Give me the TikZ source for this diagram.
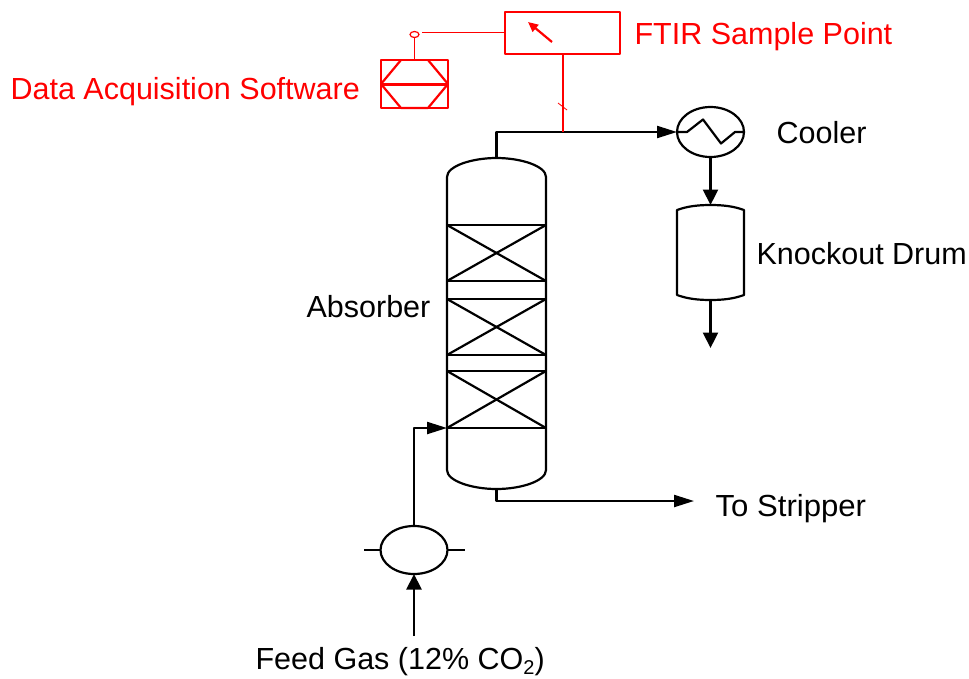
\documentclass[tikz,border=0pt]{standalone}
\usepackage{fontspec}
\setmainfont{Liberation Sans}
\usetikzlibrary{arrows.meta, shapes.geometric}

\begin{document}
\begin{tikzpicture}[
                    % one unit is one pixel of the sheet, y runs downwards
                    x=1pt, y=-1pt,
                    every path/.style={line width=2.2pt},
                    line join=round,
                    % Arrow tips are longer on the level lines
                    hflow/.style={-{Triangle[length=20pt, width=12pt]}},
                    vflow/.style={-{Triangle[length=15.5pt, width=15pt]}},
                    vessel/.style={draw, ellipse, inner sep=0pt, outer sep=0pt},
                    tag/.style={anchor=base west, inner sep=0pt, font=\fontsize{30.5}{36}\selectfont},
                    probe/.style={color=red, draw=red, text=red}
                  ]
  \useasboundingbox (0,0) rectangle (969,678);

  % --- Dimensions of the absorber ---
  \def\Xl{447}     % left wall
  \def\Xr{546}     % right wall
  \def\Xm{496.5}   % centre line

  % --- Absorber shell ---
  \coordinate (absTop) at (\Xm,158);
  \coordinate (absBot) at (\Xm,489);
  \draw (\Xl,470) -- (\Xl,177) .. controls (\Xl,166) and (472,158) .. (absTop)
        .. controls (521,158) and (\Xr,166) .. (\Xr,177) -- (\Xr,470)
        .. controls (\Xr,481) and (521,489) .. (absBot)
        .. controls (472,489) and (\Xl,481) .. (\Xl,470) -- cycle;

  % Packed beds
  \foreach \Ya/\Yb in {225/281, 299/355, 371/428} {
    \draw (\Xl,\Ya) rectangle (\Xr,\Yb);
    \draw (\Xl,\Ya) -- (\Xr,\Yb);
    \draw (\Xl,\Yb) -- (\Xr,\Ya);
  }
  \coordinate (absIn) at (\Xl,428);

  % --- Cooler and knockout drum ---
  \node[vessel, minimum width=67pt, minimum height=50pt] (cooler) at (710.5,132) {};
  \draw (cooler.west) -- ++(10,0) -- ++(16,-12.5) -- ++(18,24) -- ++(14,-11.5) -- (cooler.east);

  \coordinate (drumTop) at (710.5,205);
  \coordinate (drumBot) at (710.5,300);
  \draw (677,210) .. controls (688,206) and (699,205) .. (drumTop)
        .. controls (722,205) and (733,206) .. (744,210) -- (744,295)
        .. controls (733,299) and (722,300) .. (drumBot)
        .. controls (699,300) and (688,299) .. (677,295) -- cycle;
  \coordinate (drumOut) at (710.5,348);

  % --- Feed gas vessel ---
  \node[vessel, minimum width=67pt, minimum height=48pt] (feed) at (414,550) {};
  \coordinate (feedL) at (364,550);
  \coordinate (feedR) at (465,550);
  \coordinate (feedIn) at (414,636);
  \draw (feedL) -- (feed.west);
  \draw (feed.east) -- (feedR);

  % --- Process lines ---
  \coordinate (strip) at (694,501);
  \coordinate (tee) at (563,132);
  \draw[hflow] (absTop) |- (cooler.west);
  \draw[vflow] (cooler.south) -- (drumTop);
  \draw[vflow] (drumBot) -- (drumOut);
  \draw[hflow] (feed.north) |- (absIn);
  \draw[vflow] (feedIn) -- (feed.south);
  \draw[hflow] (absBot) |- (strip);

  % --- Sampling loop ---
  \node[probe, draw, inner sep=0pt, outer sep=0pt, minimum width=115pt, minimum height=42pt] (ftir) at (562.5,33) {};
  \draw[probe, line width=1.8pt] (tee) -- (ftir.south -| tee);
  \draw[probe, line width=0.8pt] (558,103) -- (567,110);
  \coordinate (needleA) at (552,42);
  \coordinate (needleB) at (528,22);
  \draw[probe, -{Triangle[length=10pt, width=9pt]}] (needleA) -- (needleB);

  \node[probe, draw, inner sep=0pt, outer sep=0pt, minimum width=67pt, minimum height=48pt] (daq) at (414.5,84) {};
  \draw[probe, line width=3pt] (daq.west) -- (daq.east);
  \draw[probe] (401,60) -- (daq.west) -- (401,108) -- (428,108) -- (daq.east) -- (428,60);
  \node[probe, draw, ellipse, line width=1.2pt, inner sep=0pt, outer sep=0pt, minimum width=9pt, minimum height=6pt] (relay) at (414.5,34.5) {};
  \draw[probe, line width=1.8pt] (relay.south) -- (daq.north);
  \coordinate (relayEnd) at (422,32.5);
  \draw[probe, line width=1.8pt] (ftir.west |- relayEnd) -- (relayEnd);

  % --- Labels ---
  \node[tag, probe, draw=none] (ftirText) at (633.5,44) {FTIR Sample Point};
  \node[tag, probe, draw=none] (daqText) at (9.5,99) {Data Acquisition Software};
  \node[tag] (coolerText) at (775.5,143) {Cooler};
  \node[tag] (drumText) at (755.5,264) {Knockout Drum};
  \node[tag] (absText) at (305.5,317.5) {Absorber};
  \node[tag, xscale=1.02] (stripText) at (714.5,516) {To Stripper};
  \node[tag] (feedText) at (254.5,669) {Feed Gas (12\% CO\raisebox{-5pt}{\fontsize{20}{24}\selectfont 2})};
\end{tikzpicture}
\end{document}
